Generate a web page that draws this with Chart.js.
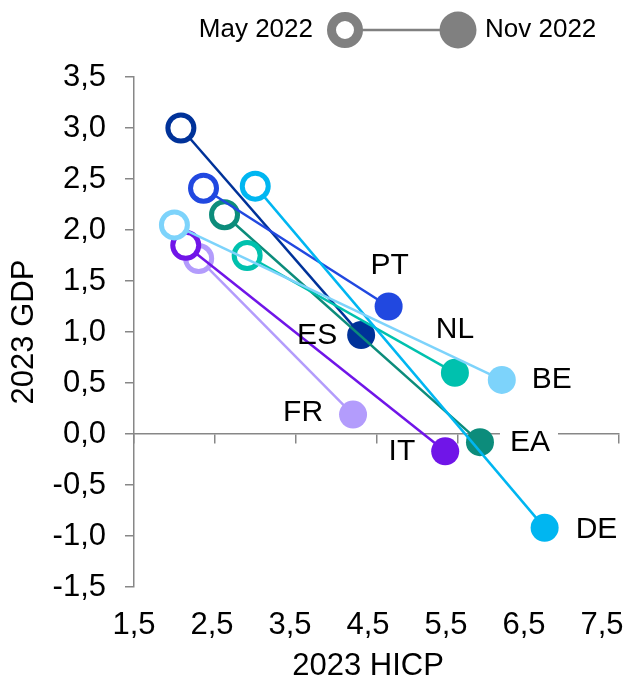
<!DOCTYPE html>
<html>
<head>
<meta charset="utf-8">
<script src="https://cdn.jsdelivr.net/npm/chart.js@4"></script>
<style>
  html, body { margin: 0; padding: 0; background: #ffffff; }
  canvas { display: block; }
</style>
</head>
<body>
<canvas id="chart" width="644" height="682"></canvas>
<script>
// 2023 projections: HICP inflation (x) vs GDP growth (y), May 2022 vs Nov 2022 vintage
const countries = ['BE', 'IT', 'FR', 'DE', 'PT', 'NL', 'EA', 'ES'];
const hicpMay = [2.00, 2.14, 2.30, 3.00, 2.36, 2.90, 2.62, 2.08];
const gdpMay  = [2.05, 1.85, 1.72, 2.43, 2.41, 1.75, 2.15, 3.00];
const hicpNov = [6.05, 5.35, 4.21, 6.58, 4.65, 5.47, 5.78, 4.31];
const gdpNov  = [0.53, -0.17, 0.19, -0.92, 1.25, 0.60, -0.08, 0.97];
const vintages = ['May 2022', 'Nov 2022'];
const xTickValues = [1.5, 2.5, 3.5, 4.5, 5.5, 6.5, 7.5];
const yTickValues = [-1.5, -1.0, -0.5, 0.0, 0.5, 1.0, 1.5, 2.0, 2.5, 3.0, 3.5];
const xTitle = '2023 HICP';
const yTitle = '2023 GDP';

// styling
const FONT = "'Liberation Sans', Arial, sans-serif";
const AXIS_GREY = '#878787';
const LEGEND_GREY = '#808080';
const colors = {
  BE: '#7dd3fb', IT: '#7015e8', FR: '#b39cfc', DE: '#00b6f1',
  PT: '#2148e0', NL: '#00c1ae', EA: '#0c8c7b', ES: '#003299'
};
const labelPlacement = {
  BE: { dx: 30,  dy: 0,   align: 'left' },
  IT: { dx: -30, dy: 0,   align: 'right' },
  FR: { dx: -30, dy: -2,  align: 'right' },
  DE: { dx: 31,  dy: 2,   align: 'left' },
  PT: { dx: 1,   dy: -41, align: 'center' },
  NL: { dx: 0,   dy: -43, align: 'center' },
  EA: { dx: 30,  dy: 1,   align: 'left', knockout: true },
  ES: { dx: -24, dy: 1,   align: 'right' }
};

const fmt = v => Number(v).toFixed(1).replace('.', ',');

const datasets = countries.map((c, i) => ({
  label: c,
  data: [
    { x: hicpMay[i], y: gdpMay[i] },
    { x: hicpNov[i], y: gdpNov[i] }
  ],
  showLine: true,
  borderColor: colors[c],
  borderWidth: 2.5,
  pointBackgroundColor: ['#ffffff', colors[c]],
  pointBorderColor: colors[c],
  pointBorderWidth: [5, 0],
  pointRadius: [13, 14],
  pointHoverRadius: [13, 14],
  xAxisID: 'x',
  yAxisID: 'y'
}));

// country codes next to the Nov 2022 markers
const countryLabels = {
  id: 'countryLabels',
  afterDatasetsDraw(chart) {
    const ctx = chart.ctx;
    ctx.save();
    ctx.font = '30px ' + FONT;
    ctx.textBaseline = 'middle';
    chart.data.datasets.forEach((ds, i) => {
      const pt = chart.getDatasetMeta(i).data[1];
      const p = labelPlacement[ds.label];
      const x = pt.x + p.dx, y = pt.y + p.dy;
      ctx.textAlign = p.align;
      if (p.knockout) {
        const w = ctx.measureText(ds.label).width;
        const left = p.align === 'left' ? x : (p.align === 'right' ? x - w : x - w / 2);
        ctx.fillStyle = '#ffffff';
        ctx.fillRect(left - 10, y - 14, w + 18, 28);
      }
      ctx.fillStyle = '#000000';
      ctx.fillText(ds.label, x, y);
    });
    ctx.restore();
  }
};

// legend: open ring (May) joined to filled dot (Nov)
const vintageLegend = {
  id: 'vintageLegend',
  afterDraw(chart) {
    const ctx = chart.ctx;
    const cy = 30;
    ctx.save();
    ctx.font = '26px ' + FONT;
    ctx.textBaseline = 'middle';
    ctx.fillStyle = '#000000';
    ctx.textAlign = 'right';
    ctx.fillText(vintages[0], 313, cy);
    ctx.textAlign = 'left';
    ctx.fillText(vintages[1], 485, cy);
    ctx.strokeStyle = LEGEND_GREY;
    ctx.lineWidth = 2.5;
    ctx.beginPath();
    ctx.moveTo(360, cy);
    ctx.lineTo(445, cy);
    ctx.stroke();
    ctx.lineWidth = 9;
    ctx.fillStyle = '#ffffff';
    ctx.beginPath();
    ctx.arc(345, cy, 13.5, 0, Math.PI * 2);
    ctx.fill();
    ctx.stroke();
    ctx.fillStyle = LEGEND_GREY;
    ctx.beginPath();
    ctx.arc(458, cy, 18.5, 0, Math.PI * 2);
    ctx.fill();
    ctx.restore();
  }
};

const tickFont = { family: FONT, size: 31 };
const titleFont = { family: FONT, size: 31 };

new Chart(document.getElementById('chart'), {
  type: 'scatter',
  data: { datasets },
  options: {
    responsive: false,
    animation: false,
    devicePixelRatio: 1,
    events: [],
    layout: { padding: { top: 77, right: 25, bottom: 0, left: 0 } },
    plugins: { legend: { display: false }, tooltip: { enabled: false } },
    scales: {
      // value axis for the data, drawn as the horizontal line through GDP = 0
      x: {
        type: 'linear',
        axis: 'x',
        position: { y: 0 },
        min: 1.5, max: 7.5,
        afterBuildTicks: s => { s.ticks = xTickValues.map(v => ({ value: v })); },
        afterFit: s => { s.height = 0; s.paddingLeft = 0; s.paddingRight = 0; },
        ticks: { display: false },
        grid: {
          drawOnChartArea: false,
          drawTicks: true,
          tickLength: 9,
          color: AXIS_GREY,
          lineWidth: 1.5
        },
        border: { display: true, color: AXIS_GREY, width: 1.5 }
      },
      // low tick labels and title along the bottom edge
      xLabels: {
        type: 'linear',
        axis: 'x',
        position: 'bottom',
        stack: 'bottomRow',
        stackWeight: 468,
        min: 1.5, max: 7.5,
        afterBuildTicks: s => { s.ticks = xTickValues.map(v => ({ value: v })); },
        afterFit: s => { s.height = 95; s.paddingLeft = 0; s.paddingRight = 0; },
        grid: { display: false, drawTicks: false },
        border: { display: false },
        ticks: {
          padding: 20,
          color: '#000000',
          font: tickFont,
          maxRotation: 0,
          callback: v => fmt(v)
        },
        title: {
          display: true,
          text: xTitle,
          color: '#000000',
          font: Object.assign({ lineHeight: 1.0 }, titleFont),
          padding: { top: 0, bottom: 0 }
        }
      },
      xGap: {
        type: 'linear',
        axis: 'x',
        position: 'bottom',
        stack: 'bottomRow',
        stackWeight: 17,
        min: 0, max: 1,
        afterFit: s => { s.height = 95; s.paddingLeft = 0; s.paddingRight = 0; },
        grid: { display: false, drawTicks: false },
        border: { display: false },
        ticks: { display: false }
      },
      y: {
        type: 'linear',
        position: 'left',
        min: -1.5, max: 3.5,
        afterBuildTicks: s => { s.ticks = yTickValues.map(v => ({ value: v })); },
        afterFit: s => { s.width = 134; s.paddingTop = 0; s.paddingBottom = 0; },
        grid: {
          drawOnChartArea: false,
          drawTicks: true,
          tickLength: 9,
          color: AXIS_GREY,
          lineWidth: 1.5
        },
        border: { display: true, color: AXIS_GREY, width: 1.5 },
        ticks: {
          padding: 19,
          color: '#000000',
          font: tickFont,
          callback: v => fmt(v)
        },
        title: {
          display: true,
          text: yTitle,
          color: '#000000',
          font: titleFont,
          padding: { top: 6, bottom: 0 }
        }
      }
    }
  },
  plugins: [countryLabels, vintageLegend]
});
</script>
</body>
</html>
